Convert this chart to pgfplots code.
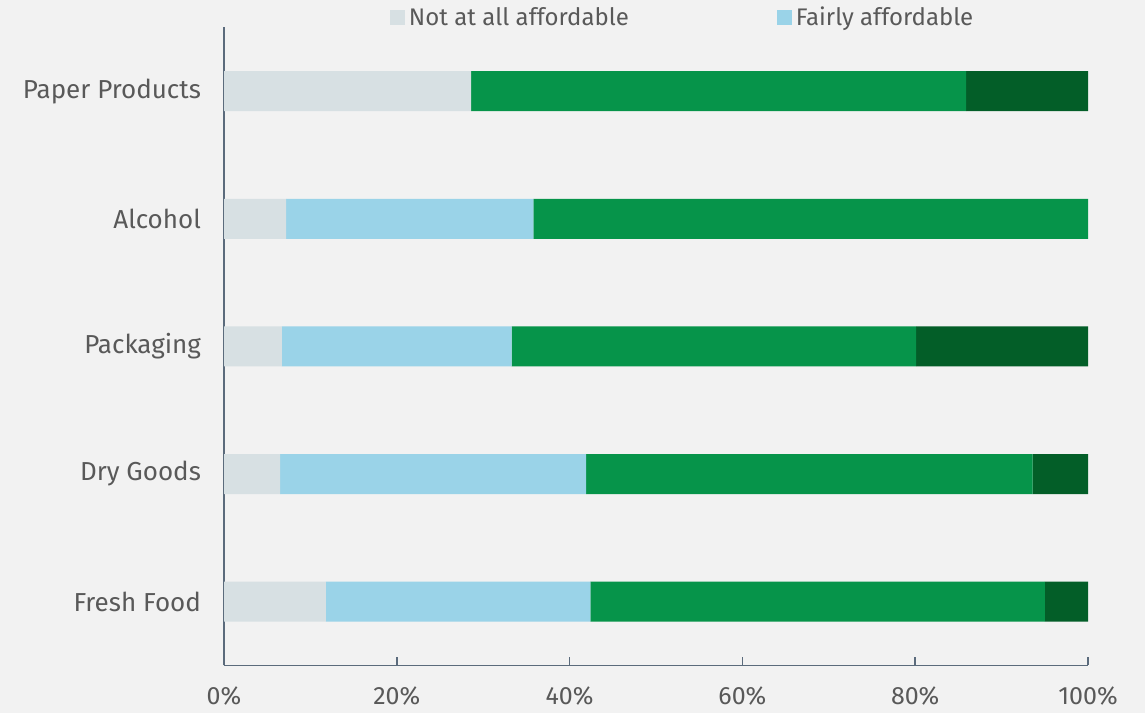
\documentclass[border=0pt]{standalone}
\usepackage{fontspec}
\setmainfont{Fira Sans}
\usepackage{pgfplots}
\pgfplotsset{compat=1.18}
\usetikzlibrary{backgrounds}
\definecolor{cgrey}{HTML}{D7E0E3}
\definecolor{cblue}{HTML}{9AD3E8}
\definecolor{cgreen}{HTML}{06944A}
\definecolor{cdark}{HTML}{035E28}
\definecolor{txt}{HTML}{595959}
\definecolor{axc}{HTML}{5B6B7C}
\definecolor{bgc}{HTML}{F2F2F2}
\begin{document}
\begin{tikzpicture}
\begin{axis}[
  xbar stacked, bar width=20pt,
  width=432pt, height=319pt, scale only axis,
  xmin=0, xmax=100, ymin=-0.5, ymax=4.5,
  ytick={0,1,2,3,4},
  yticklabels={Fresh Food,Dry Goods,Packaging,Alcohol,Paper Products},
  xtick={0,20,40,60,80,100},
  xticklabel={\pgfmathprintnumber{\tick}\%},
  /pgf/number format/assume math mode=true,
  axis x line*=bottom, axis y line*=left,
  axis line style={-,axc,line width=0.8pt},
  tick align=inside, major tick length=4pt,
  xtick style={axc,line width=0.8pt},
  ytick style={draw=none},
  xticklabel style={font=\fontsize{12.5pt}{14pt}\selectfont, text=txt, yshift=-7pt},
  yticklabel style={font=\fontsize{13pt}{15pt}\selectfont, text=txt, xshift=-8pt},
  legend columns=2,
  legend style={draw=none, fill=none, at={(rel axis cs:0.532,1.015)}, anchor=center,
    font=\fontsize{12pt}{14pt}\selectfont, text=txt,
    /tikz/every even column/.append style={column sep=72pt},
    inner sep=0pt},
  legend image code/.code={\fill[#1] (0pt,-3.75pt) rectangle (7.5pt,3.75pt);},
  clip=false,
]
\addplot[fill=cgrey, draw=none] coordinates {(11.8,0) (6.5,1) (6.7,2) (7.2,3) (28.6,4)};
\addplot[fill=cblue, draw=none] coordinates {(30.6,0) (35.4,1) (26.6,2) (28.6,3) (0,4)};
\addplot[fill=cgreen, draw=none] coordinates {(52.6,0) (51.7,1) (46.8,2) (64.2,3) (57.3,4)};
\addplot[fill=cdark, draw=none] coordinates {(5.0,0) (6.4,1) (19.9,2) (0,3) (14.1,4)};
\legend{Not at all affordable, Fairly affordable}
\coordinate (bbl) at (rel axis cs:-0.2593,-0.0745);
\coordinate (btr) at (rel axis cs:1.066,1.043);
\end{axis}
\pgfresetboundingbox
\path (bbl) rectangle (btr);
\begin{scope}[on background layer]
\fill[bgc] (bbl) rectangle (btr);
\end{scope}
\end{tikzpicture}
\end{document}
